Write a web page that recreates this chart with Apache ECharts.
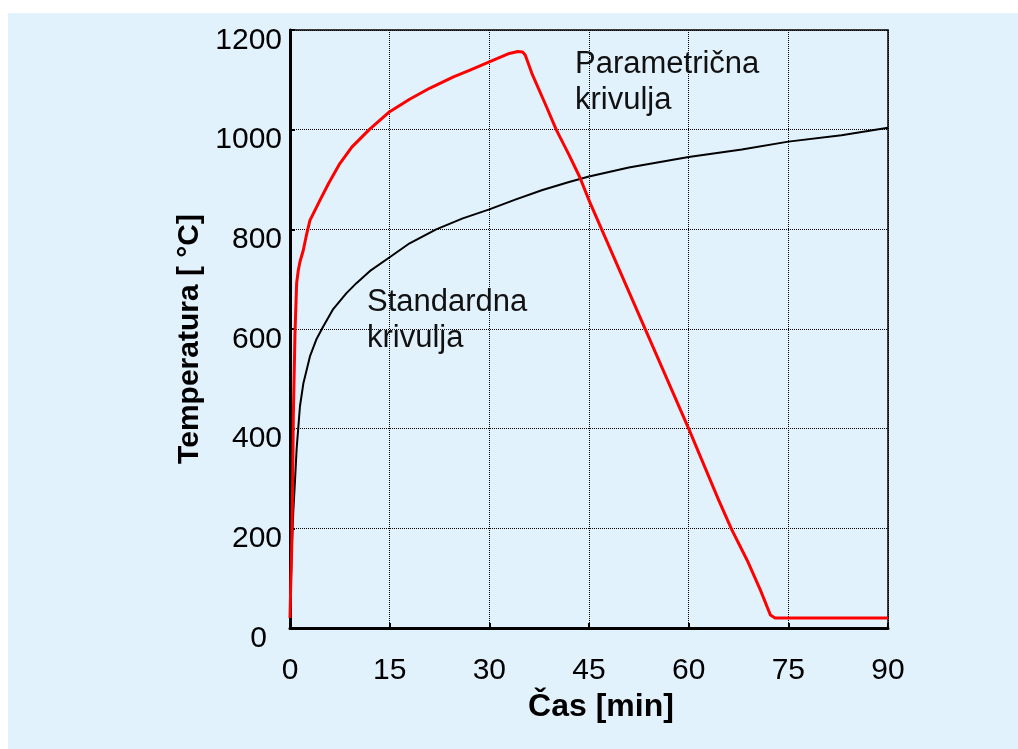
<!DOCTYPE html>
<html>
<head>
<meta charset="utf-8">
<script src="https://cdn.jsdelivr.net/npm/echarts@6/dist/echarts.min.js"></script>
<style>
  html, body { margin: 0; padding: 0; background: #fff; }
  #panel { position: absolute; left: 8px; top: 13px; right: 0; bottom: 0; background: #e1f2fd; }
  #chart { position: absolute; left: 0; top: 0; width: 1018px; height: 749px; }
</style>
</head>
<body>
<div id="panel"></div>
<div id="chart"></div>
<script>
// standardna krivulja (cas v min, temperatura v °C)
var stdTime = [0, 0.25, 0.5, 0.75, 1, 1.5, 2, 3, 4, 5, 6.5, 8.5, 10, 12, 15, 18, 22, 26, 30, 34, 38, 42, 45, 51, 60, 68, 75, 83, 90];
var stdTemp = [20, 150, 235, 295, 360, 445, 490, 545, 580, 605, 640, 672, 692, 716, 744, 772, 800, 822, 840, 860, 879, 895, 906, 924, 945, 960, 976, 989, 1004];

// parametricna krivulja
var parTime = [0, 0.1, 0.25, 0.4, 0.5, 0.75, 1, 1.25, 1.5, 2, 2.5, 3, 4.5, 5.8, 7.5, 9.3, 12, 15, 18, 21, 24.6, 27, 30, 33, 34.3, 35, 35.4, 36.4, 38.6, 40.1, 41.9, 43.6, 45.1, 60, 64.5, 66.5, 68.8, 70.8, 72.3, 73, 80, 90];
var parTemp = [20, 80, 156, 290, 424, 591, 692, 718, 735, 758, 790, 818, 858, 892, 932, 965, 1001, 1036, 1061, 1083, 1106, 1119, 1136, 1153, 1157, 1156, 1150, 1113, 1046, 999, 952, 905, 855, 400, 257, 197, 136, 76, 26, 20, 20, 20];

var xTicks = [0, 15, 30, 45, 60, 75, 90];
var yTicks = [0, 200, 400, 600, 800, 1000, 1200];

function pairs(xs, ys) {
  return xs.map(function (x, i) { return [x, ys[i]]; });
}

var font = 'Liberation Sans, Arial, sans-serif';
var chart = echarts.init(document.getElementById('chart'));

chart.setOption({
  backgroundColor: 'transparent',
  animation: false,
  grid: {
    left: 290, top: 30, width: 598, height: 598,
    show: true, borderColor: '#000', borderWidth: 1.5, backgroundColor: 'transparent'
  },
  xAxis: {
    type: 'value',
    min: xTicks[0], max: xTicks[xTicks.length - 1], interval: 15,
    name: 'Čas [min]',
    nameLocation: 'middle',
    nameGap: 57,
    nameTextStyle: { fontFamily: font, fontSize: 32, fontWeight: 'bold', color: '#000', padding: [0, 0, 0, 24] },
    axisLine: { lineStyle: { color: '#000', width: 3 } },
    axisTick: { inside: true, length: 5, lineStyle: { color: '#000', width: 2 } },
    axisLabel: { fontFamily: font, fontSize: 30, color: '#000', margin: 28 },
    splitLine: { show: true, lineStyle: { color: '#000', width: 1, type: [1, 1] } }
  },
  yAxis: {
    type: 'value',
    min: yTicks[0], max: yTicks[yTicks.length - 1], interval: 200,
    name: 'Temperatura [ °C]',
    nameLocation: 'middle',
    nameGap: 60,
    nameTextStyle: { fontFamily: font, fontSize: 30, fontWeight: 'bold', color: '#000', padding: [0, 20, 0, 0] },
    axisLine: { show: true, lineStyle: { color: '#000', width: 3 } },
    axisTick: { show: true, inside: true, length: 5, lineStyle: { color: '#000', width: 2 } },
    axisLabel: {
      fontFamily: font, fontSize: 30, color: '#000', margin: 8,
      verticalAlign: 'top', lineHeight: 21,
      formatter: function (v) { return v === 0 ? '{z|0}' : String(v); },
      rich: { z: { fontFamily: font, fontSize: 30, color: '#000', lineHeight: 21, padding: [0, 15, 0, 0] } }
    },
    splitLine: { show: true, lineStyle: { color: '#000', width: 1, type: [1, 1] } }
  },
  series: [
    {
      name: 'Standardna krivulja',
      type: 'line',
      data: pairs(stdTime, stdTemp),
      showSymbol: false,
      lineStyle: { color: '#000', width: 2, join: 'round' },
      z: 3
    },
    {
      name: 'Parametrična krivulja',
      type: 'line',
      data: pairs(parTime, parTemp),
      showSymbol: false,
      lineStyle: { color: '#ff0000', width: 3, join: 'round' },
      z: 4
    }
  ],
  graphic: [
    {
      type: 'text', left: 367, top: 284, z: 10,
      style: { text: 'Standardna\nkrivulja', font: '31px ' + font, fill: '#111', lineHeight: 36 }
    },
    {
      type: 'text', left: 575, top: 46, z: 10,
      style: { text: 'Parametrična\nkrivulja', font: '31px ' + font, fill: '#111', lineHeight: 36 }
    }
  ]
});
</script>
</body>
</html>
